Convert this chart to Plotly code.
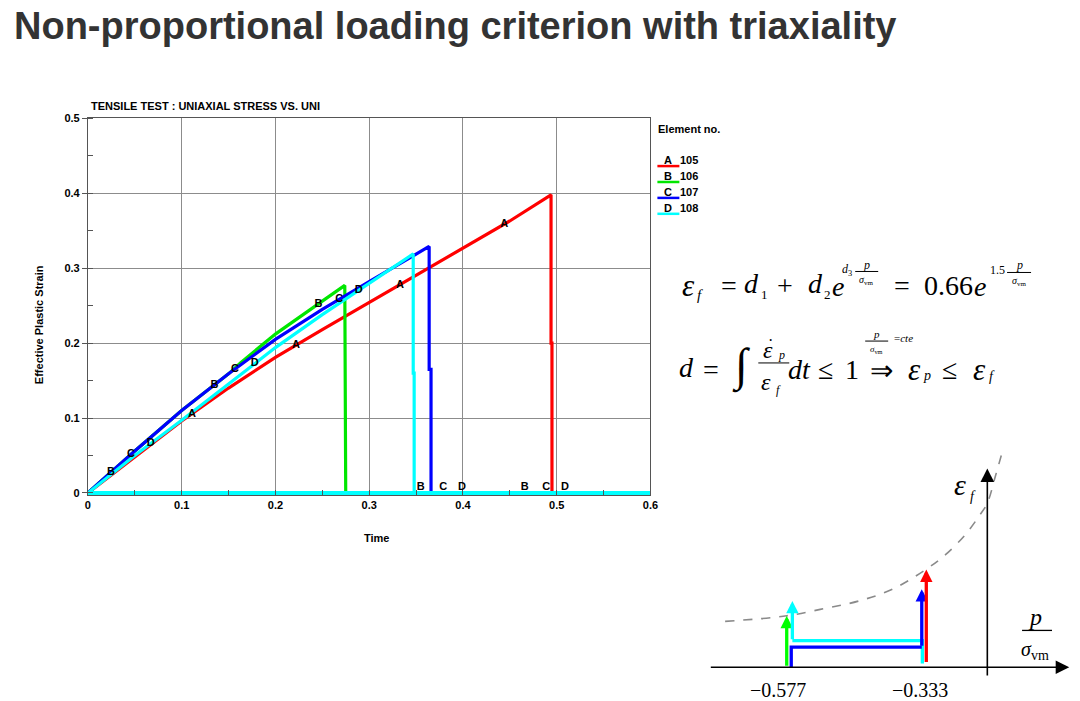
import numpy as np
import plotly.graph_objects as go

W, H = 1080, 701          # reference frame the positions below are measured in
FIG_W, FIG_H = 1090, 707  # the photographed page comes out ~0.991x; compensate

# ---- main chart data ----
time_a = [0, 0.05, 0.1, 0.15, 0.2, 0.25, 0.3, 0.35, 0.4, 0.45, 0.494, 0.494, 0.495, 0.495, 0.6]
strain_a = [0, 0.048, 0.096, 0.140, 0.181, 0.218, 0.254, 0.290, 0.327, 0.363, 0.398, 0.20, 0.20, 0, 0]
time_b = [0, 0.05, 0.1, 0.15, 0.163, 0.2, 0.25, 0.274, 0.275, 0.6]
strain_b = [0, 0.056, 0.110, 0.159, 0.174, 0.212, 0.256, 0.277, 0, 0]
time_c = [0, 0.05, 0.1, 0.15, 0.2, 0.25, 0.3, 0.35, 0.364, 0.364, 0.366, 0.366, 0.6]
strain_c = [0, 0.056, 0.110, 0.159, 0.205, 0.245, 0.282, 0.318, 0.329, 0.165, 0.165, 0, 0]
time_d = [0, 0.05, 0.1, 0.15, 0.2, 0.25, 0.3, 0.346, 0.347, 0.347, 0.348, 0.348, 0.6]
strain_d = [0, 0.050, 0.097, 0.145, 0.194, 0.238, 0.280, 0.319, 0.319, 0.16, 0.16, 0, 0]

series = [
    ("A", "105", "#ff0000", time_a, strain_a, [0.111, 0.222, 0.333, 0.444]),
    ("B", "106", "#00e600", time_b, strain_b, [0.0245, 0.135, 0.246, 0.355, 0.466]),
    ("C", "107", "#0000ff", time_c, strain_c, [0.046, 0.157, 0.268, 0.379, 0.489]),
    ("D", "108", "#00ffff", time_d, strain_d, [0.067, 0.178, 0.289, 0.399, 0.509]),
]
x_ticks = [0, 0.1, 0.2, 0.3, 0.4, 0.5, 0.6]
y_ticks = [0, 0.1, 0.2, 0.3, 0.4, 0.5]

# ---- schematic failure-locus diagram data ----
curve_x = [-0.687, -0.578, -0.509, -0.450, -0.391, -0.332, -0.297, -0.262, -0.238, -0.223, -0.209, -0.194]
curve_y = [0.188, 0.211, 0.242, 0.272, 0.320, 0.401, 0.462, 0.544, 0.619, 0.674, 0.782, 0.905]
triax_ticks = [-0.577, -0.333]
paths = [  # (color, xs, ys) – last segment ends with an arrow head
    ("#00ff00", [-0.578, -0.578], [0.0, 0.211]),
    ("#00ffff", [-0.338, -0.338, -0.568, -0.568], [0.015, 0.109, 0.109, 0.272]),
    ("#0000ff", [-0.570, -0.570, -0.339, -0.339], [0.0, 0.082, 0.082, 0.320]),
    ("#ff0000", [-0.331, -0.331], [0.015, 0.401]),
]

fig = go.Figure()

def px(x):
    return x / W

def py(y):
    return 1 - y / H

def label(x, y, text, size, family="Liberation Serif", xanchor="center", color="black", weight="normal", angle=0):
    fig.add_annotation(x=px(x), y=py(y), xref="paper", yref="paper", text=text, showarrow=False,
                       xanchor=xanchor, yanchor="middle", textangle=angle,
                       font=dict(size=size, family=family, color=color, weight=weight))

def bar(x0, x1, y, width=1):
    fig.add_shape(type="line", xref="paper", yref="paper", x0=px(x0), x1=px(x1), y0=py(y), y1=py(y),
                  line=dict(color="black", width=width))

# main curves
for letter, elem, color, t, s, lt in series:
    fig.add_trace(go.Scatter(x=t, y=s, mode="lines", line=dict(color=color, width=3.2),
                             showlegend=False, hoverinfo="skip"))
# baseline at zero strain (cyan band along the time axis)
fig.add_trace(go.Scatter(x=[x_ticks[0], x_ticks[-1]], y=[0, 0], mode="lines",
                         line=dict(color="#00ffff", width=4), showlegend=False, hoverinfo="skip"))
# curve letters
for letter, elem, color, t, s, lt in series:
    ly = np.interp(lt, t, s)
    fig.add_trace(go.Scatter(x=lt, y=ly, mode="text", text=[letter] * len(lt),
                             textposition=["top center" if v < 0.005 else "middle center" for v in ly],
                             textfont=dict(size=11, family="Liberation Sans", color="black", weight="bold"),
                             showlegend=False, hoverinfo="skip", cliponaxis=False))

# schematic diagram
fig.add_trace(go.Scatter(x=curve_x, y=curve_y, mode="lines", xaxis="x2", yaxis="y2",
                         line=dict(color="#8a8a8a", width=1.6, dash="dash", shape="spline"),
                         showlegend=False, hoverinfo="skip"))
for color, xs, ys in paths:
    fig.add_trace(go.Scatter(x=xs[:-1], y=ys[:-1], mode="lines", xaxis="x2", yaxis="y2",
                             line=dict(color=color, width=3.3), showlegend=False, hoverinfo="skip"))
    fig.add_annotation(x=xs[-1], y=ys[-1], ax=xs[-2], ay=ys[-2], xref="x2", yref="y2", axref="x2", ayref="y2",
                       text="", showarrow=True, arrowhead=2, arrowsize=0.75, arrowwidth=3.3, arrowcolor=color)
# diagram axes
fig.add_annotation(x=-0.078, y=0, ax=-0.715, ay=0, xref="x2", yref="y2", axref="x2", ayref="y2",
                   text="", showarrow=True, arrowhead=2, arrowsize=1.7, arrowwidth=1.6, arrowcolor="black")
fig.add_annotation(x=-0.223, y=0.816, ax=-0.223, ay=-0.04, xref="x2", yref="y2", axref="x2", ayref="y2",
                   text="", showarrow=True, arrowhead=2, arrowsize=1.7, arrowwidth=1.6, arrowcolor="black")
for v, xp in zip(triax_ticks, [776, 918]):
    label(xp, 688, "\u2212" + f"{abs(v):.3f}", 20)
label(958, 481, "<i>\u03b5</i>", 30)
label(971, 493, "<i>f</i>", 14)
label(1033, 615, "<i>p</i>", 24)
bar(1020, 1050, 628, 1.3)
label(1033, 648, "<i>\u03c3</i><sub>vm</sub>", 20)

# equations, line 1
label(686, 281, "<i>\u03b5</i>", 31)
label(698, 291, "<i>f</i>", 15)
label(727, 281, "=", 28)
label(749, 279, "<i>d</i>", 28)
label(762, 290, "1", 13)
label(783, 281, "+", 28)
label(813, 279, "<i>d</i>", 28)
label(825, 290, "2", 13)
label(836, 282, "<i>e</i>", 28)
label(845, 266, "<i>d</i><sub>3</sub>", 12)
label(864, 260, "<i>p</i>", 12)
bar(853, 876, 267)
label(864, 276, "<i>\u03c3</i><sub>vm</sub>", 10)
label(900, 281, "=", 28)
label(946, 281, "0.66", 28)
label(978, 282, "<i>e</i>", 28)
label(995, 266, "1.5", 12)
label(1017, 260, "<i>p</i>", 12)
bar(1005, 1029, 268)
label(1017, 277, "<i>\u03c3</i><sub>vm</sub>", 10)

# equations, line 2
label(684, 364, "<i>d</i>", 28)
label(709, 366, "=", 28)
label(739, 362, "\u222b", 46)
label(766, 346, "<i>\u03b5</i>", 24)
label(768, 336, "\u00b7", 16)
label(779, 351, "<i>p</i>", 12)
bar(756, 787, 359)
label(764, 378, "<i>\u03b5</i>", 24)
label(776, 386, "<i>f</i>", 12)
label(797, 366, "<i>dt</i>", 28)
label(823, 366, "\u2264", 28)
label(850, 366, "1", 28)
label(879, 367, "\u21d2", 28)
label(874, 330, "<i>p</i>", 11)
bar(863, 886, 337)
label(874, 345, "<i>\u03c3</i><sub>vm</sub>", 9)
label(901, 334, "=<i>cte</i>", 11)
label(912, 366, "<i>\u03b5</i>", 31)
label(925, 372, "<i>p</i>", 14)
label(947, 366, "\u2264", 28)
label(977, 366, "<i>\u03b5</i>", 31)
label(990, 373, "<i>f</i>", 14)

# texts of the LS-PrePost plot
label(9, 20, "Non-proportional loading criterion with triaxiality", 38, family="Liberation Sans",
      xanchor="left", color="#333333", weight="bold")
label(86, 101, "TENSILE TEST : UNIAXIAL STRESS VS. UNI", 11, family="Liberation Sans", xanchor="left", weight="bold")
label(36, 320, "Effective Plastic Strain", 11, family="Liberation Sans", weight="bold", angle=-90)
label(374, 535, "Time", 11, family="Liberation Sans", weight="bold")
label(654, 124, "Element no.", 11, family="Liberation Sans", xanchor="left", weight="bold")
for i, (letter, elem, color, t, s, lt) in enumerate(series):
    yy = 161 + 16 * i
    fig.add_shape(type="line", xref="paper", yref="paper", x0=px(655), x1=px(677), y0=py(yy), y1=py(yy),
                  line=dict(color=color, width=2.5))
    label(666, yy - 6, letter, 11, family="Liberation Sans", weight="bold")
    label(676, yy - 6, elem, 11, family="Liberation Sans", xanchor="left", weight="bold")

tick_font = dict(size=11, family="Liberation Sans", color="black", weight="bold")
fig.update_layout(
    width=FIG_W, height=FIG_H, margin=dict(l=0, r=0, t=0, b=0),
    paper_bgcolor="white", plot_bgcolor="white",
    xaxis=dict(domain=[px(85), px(648)], range=[0, 0.6], tickvals=x_ticks, ticktext=[f"{v:g}" for v in x_ticks],
               showgrid=True, gridcolor="#8c8c8c", gridwidth=1, zeroline=False,
               showline=True, linecolor="#555555", linewidth=1, mirror=True, ticks="",
               minor=dict(dtick=0.05, tick0=0, ticks="inside", ticklen=5, tickcolor="#555555", showgrid=False),
               tickfont=tick_font, anchor="y"),
    yaxis=dict(domain=[py(492), py(113)], range=[-0.003, 0.5], tickvals=y_ticks, ticktext=[f"{v:g}" for v in y_ticks],
               showgrid=True, gridcolor="#8c8c8c", gridwidth=1, zeroline=False,
               showline=True, linecolor="#555555", linewidth=1, mirror=True,
               ticks="outside", ticklen=5, tickcolor="#555555",
               minor=dict(dtick=0.05, tick0=0, ticks="inside", ticklen=5, tickcolor="#555555", showgrid=False),
               tickfont=tick_font, anchor="x"),
    xaxis2=dict(domain=[px(700), px(1075)], range=[-0.7273, -0.0643], visible=False, anchor="y2"),
    yaxis2=dict(domain=[py(700), py(440)], range=[-0.1429, 0.9184], visible=False, anchor="x2"),
)

# the page body has a default 8px margin and may scroll; pin the figure to the window's corner
fig.write_html("out.html", config={"displayModeBar": False, "responsive": False},
               post_script="document.documentElement.style.overflow='hidden';"
                           "document.body.style.margin='0';document.body.style.overflow='hidden';")
